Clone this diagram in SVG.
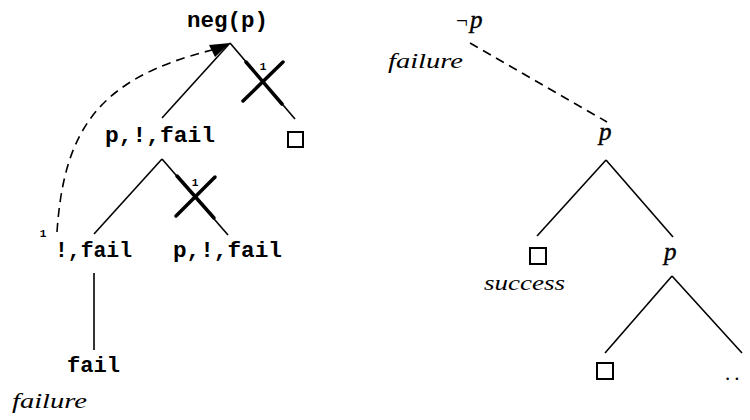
<svg xmlns="http://www.w3.org/2000/svg" width="750" height="420" viewBox="0 0 750 420">
<style>
.tt{font-family:"Liberation Mono","DejaVu Sans Mono",monospace;font-weight:bold;font-size:22px;fill:#000}
.it{font-family:"Liberation Serif","DejaVu Serif",serif;font-style:italic;font-size:21px;fill:#000}
.pp{font-family:"Liberation Serif","DejaVu Serif",serif;font-style:italic;font-size:25px;fill:#000;stroke:#000;stroke-width:0.4}
.rm{font-family:"Liberation Serif","DejaVu Serif",serif;font-size:21px;fill:#000}
.sm{font-family:"Liberation Mono","DejaVu Sans Mono",monospace;font-weight:bold;font-size:11px;fill:#000;text-anchor:middle}
.e{stroke:#000;stroke-width:1.6;fill:none}
.d{stroke:#000;stroke-width:1.6;fill:none;stroke-dasharray:9 6}
.x{stroke:#000;stroke-width:3.5;fill:none;stroke-linecap:round}
.b{fill:none;stroke:#000;stroke-width:2}
</style>
<g id="connectors">
<line class="e" x1="230" y1="43" x2="162" y2="118"/>
<line class="e" x1="230" y1="43" x2="295" y2="119"/>
<line class="e" x1="162" y1="159" x2="94" y2="234"/>
<line class="e" x1="162" y1="159" x2="228" y2="235"/>
<line class="e" x1="94" y1="273" x2="94" y2="350"/>
<line class="e" x1="606" y1="160" x2="537" y2="236"/>
<line class="e" x1="606" y1="160" x2="673" y2="237"/>
<line class="e" x1="672" y1="276" x2="605" y2="353"/>
<line class="e" x1="672" y1="276" x2="742" y2="353"/>
<line class="d" x1="470" y1="43" x2="607" y2="122"/>
<path class="d" d="M57,232 C64,128 100,78 212,50"/>
<polygon points="230,43 209,45 215,57" fill="#000"/>
<line class="x" x1="246" y1="62" x2="282" y2="104"/>
<line class="x" x1="243" y1="101" x2="283" y2="62"/>
<line class="x" x1="177" y1="176" x2="214" y2="218"/>
<line class="x" x1="176" y1="216" x2="215" y2="177"/>
<text class="sm" x="263" y="70">1</text>
<text class="sm" x="195" y="186">1</text>
<text class="sm" x="43" y="237">1</text>
</g>
<g id="n-negp"><text class="tt" x="187" y="27" textLength="81" lengthAdjust="spacingAndGlyphs">neg(p)</text></g>
<g id="n-pfail1"><text class="tt" x="105" y="142" textLength="110" lengthAdjust="spacingAndGlyphs">p,!,fail</text></g>
<g id="n-box1"><rect class="b" x="288" y="132" width="15" height="15"/></g>
<g id="n-cutfail"><text class="tt" x="55" y="257" textLength="77" lengthAdjust="spacingAndGlyphs">!,fail</text></g>
<g id="n-pfail2"><text class="tt" x="173" y="257" textLength="109" lengthAdjust="spacingAndGlyphs">p,!,fail</text></g>
<g id="n-fail"><text class="tt" x="67" y="372" textLength="53" lengthAdjust="spacingAndGlyphs">fail</text>
<text class="it" x="12" y="408" textLength="75" lengthAdjust="spacingAndGlyphs">failure</text></g>
<g id="n-notp"><text class="rm" x="456" y="28" font-size="24">¬</text><text class="pp" x="470" y="28">p</text>
<text class="it" x="388" y="68" textLength="75" lengthAdjust="spacingAndGlyphs">failure</text></g>
<g id="n-p1"><text class="pp" x="599" y="140">p</text></g>
<g id="n-box2"><rect class="b" x="530" y="248" width="16" height="16"/>
<text class="it" x="484" y="290" textLength="81" lengthAdjust="spacingAndGlyphs">success</text></g>
<g id="n-p2"><text class="pp" x="664" y="260">p</text></g>
<g id="n-box3"><rect class="b" x="597" y="363" width="16" height="16"/></g>
<g id="n-dots"><text class="rm" x="725" y="380" letter-spacing="4">..</text></g>
</svg>
